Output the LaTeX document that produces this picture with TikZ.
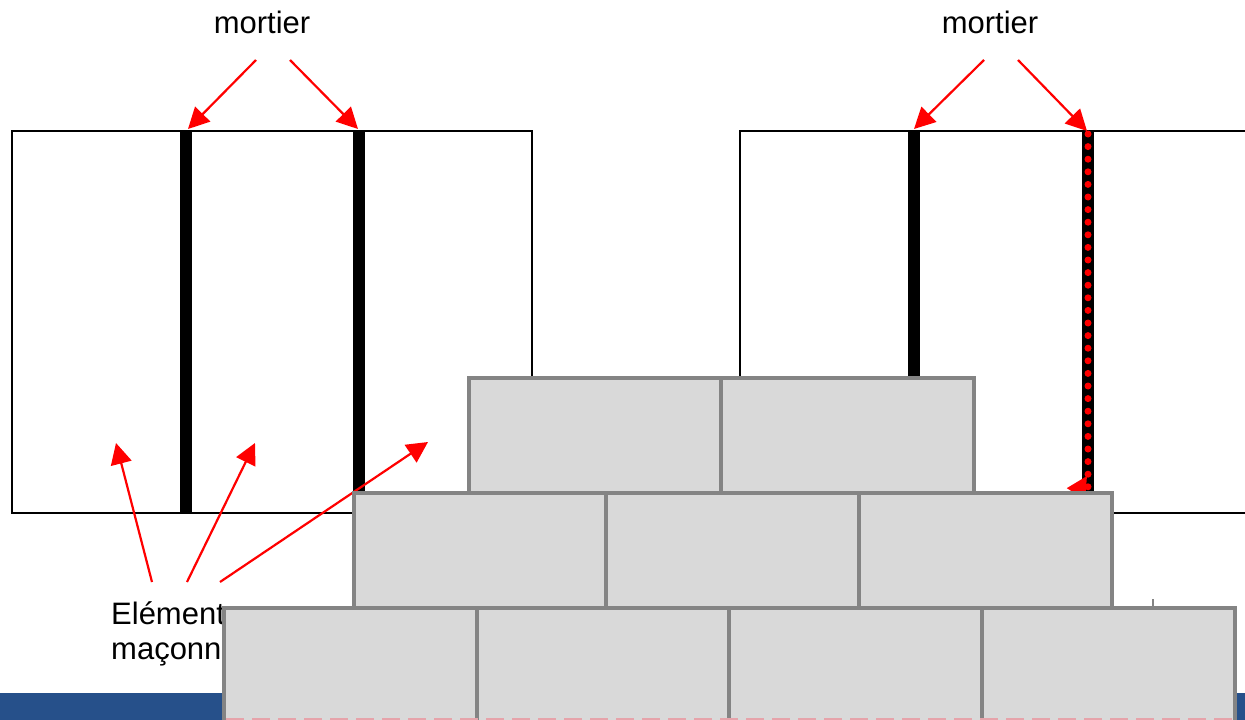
\documentclass[tikz,border=0pt]{standalone}
\usepackage{fontspec}
\setmainfont{Liberation Sans}
\usetikzlibrary{arrows.meta}
\definecolor{brickfill}{HTML}{D9D9D9}
\definecolor{brickline}{HTML}{848484}
\definecolor{bandblue}{HTML}{26508A}
\definecolor{dashpink}{HTML}{E6A3AA}
\begin{document}
\begin{tikzpicture}[x=1pt,y=-1pt,
  redarrow/.style={draw=red, line width=2.2pt, -{Triangle[length=21pt,width=21pt]}},
  boxline/.style={draw=black, line width=2.8pt},
  mortar/.style={fill=black},
  brick/.style={fill=brickfill, draw=brickline, line width=4.5pt},
  lbl/.style={font=\fontsize{31}{36}\selectfont, inner sep=0pt}]
\useasboundingbox (0,0) rectangle (1245,720);
\clip (0,0) rectangle (1245,720);
\fill[white] (0,0) rectangle (1245,720);
% left wall
\draw[boxline] (12,131) rectangle (532,513);
\fill[mortar] (180,131) rectangle (192,513);
\fill[mortar] (353,131) rectangle (365,513);
% right wall
\draw[boxline] (1260,131) -- (740,131) -- (740,513) -- (1260,513);
\fill[mortar] (908,131) rectangle (920,513);
\fill[mortar] (1082,131) rectangle (1094,513);
\draw[red, line width=7pt, line cap=round, dash pattern=on 0pt off 12.6pt] (1088,134) -- (1088,513);
% labels
\node[lbl, anchor=base] (m1) at (262,34) {mortier};
\node[lbl, anchor=base] (m2) at (990,34) {mortier};
\node[lbl, anchor=base west] (e1) at (111,624) {Eléments};
\node[lbl, anchor=base west] (e2) at (111,659) {maçonnerie};
% arrows
\coordinate (t1) at (188,129);
\coordinate (t2) at (358,129);
\coordinate (t3) at (914,129);
\coordinate (t4) at (1087,131);
\coordinate (s1) at (256,60);
\coordinate (s2) at (290,60);
\coordinate (s3) at (984,60);
\coordinate (s4) at (1018,60);
\draw[redarrow] (s1) -- (t1);
\draw[redarrow] (s2) -- (t2);
\draw[redarrow] (s3) -- (t3);
\draw[redarrow] (s4) -- (t4);
\coordinate (b1) at (152,582);
\coordinate (b2) at (187,582);
\coordinate (b3) at (220,582);
\coordinate (u1) at (116,443);
\coordinate (u2) at (255,443);
\coordinate (u3) at (428,442);
\draw[redarrow] (b1) -- (u1);
\draw[redarrow] (b2) -- (u2);
\draw[redarrow] (b3) -- (u3);
\coordinate (h0) at (1010,600);
\coordinate (h1) at (1087,476);
\draw[redarrow] (h0) -- (h1);
% blue band
\fill[bandblue] (0,693) rectangle (1245,720);
% bricks row 3
\draw[brick] (224,608) rectangle (477,740);
\draw[brick] (477,608) rectangle (729,740);
\draw[brick] (729,608) rectangle (982,740);
\draw[brick] (982,608) rectangle (1235,740);
% row 2
\draw[brick] (354,493) rectangle (606,608);
\draw[brick] (606,493) rectangle (859,608);
\draw[brick] (859,493) rectangle (1112,608);
% row 1
\draw[brick] (469,378) rectangle (721,493);
\draw[brick] (721,378) rectangle (974,493);
% pink dashes
\draw[dashpink, line width=2pt, dash pattern=on 18pt off 8pt] (226,719) -- (1236,719);
\draw[brickline, line width=2pt] (1153,599) -- (1153,606);
\end{tikzpicture}
\end{document}
